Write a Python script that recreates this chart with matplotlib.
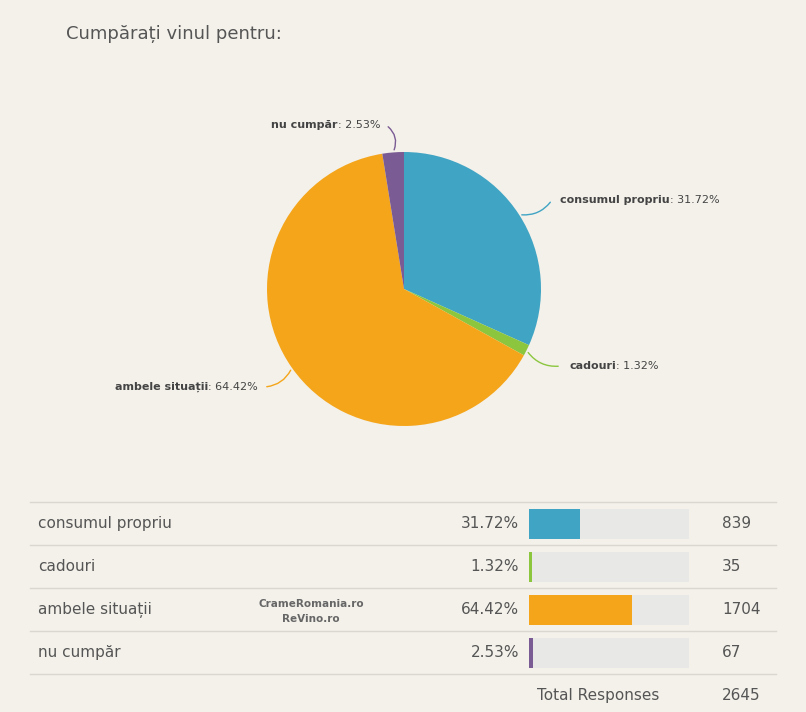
import matplotlib
matplotlib.use("Agg")
import matplotlib.pyplot as plt
import numpy as np

title = "Cumpărați vinul pentru:"
categories = ["consumul propriu", "cadouri", "ambele situații", "nu cumpăr"]
percents = [31.72, 1.32, 64.42, 2.53]
counts = [839, 35, 1704, 67]
total = 2645
colors = ["#40a4c4", "#8cc63f", "#f5a51a", "#7b5b94"]

W, H = 806, 712
bg = "#f3f1ea"
fig = plt.figure(figsize=(W/100, H/100), dpi=100, facecolor=bg)
base = fig.add_axes([0, 0, 1, 1]); base.set_xlim(0, W); base.set_ylim(H, 0); base.axis("off")
base.set_facecolor(bg)
base.text(66, 34, title, fontsize=13, color="#555555", va="center", family="DejaVu Sans")

# pie
cx, cy, r = 404, 289, 137
pax = fig.add_axes([(cx-r)/W, (H-cy-r)/H, 2*r/W, 2*r/H])
wedges, _ = pax.pie(counts, colors=colors, startangle=90, counterclock=False, radius=1,
                    wedgeprops=dict(linewidth=0))
pax.set_xlim(-1, 1); pax.set_ylim(-1, 1); pax.set_aspect("equal"); pax.axis("off")

fig.canvas.draw()
rend = fig.canvas.get_renderer()
label_pos = [(560, 200, "left"), (569, 366, "left"), (258, 387, "right"), (380, 125, "right")]
for w, name, p, c, (tx, ty, ha) in zip(wedges, categories, percents, colors, label_pos):
    ang = np.deg2rad((w.theta1 + w.theta2) / 2)
    px, py = cx + r*np.cos(ang), cy - r*np.sin(ang)
    ex = tx - 8 if ha == "left" else tx + 6
    rad = -0.3 if ha == "left" else 0.3
    if name == "nu cumpăr":
        rad = -0.4
    base.annotate("", xy=(px, py), xytext=(ex, ty),
                  arrowprops=dict(arrowstyle="-", color=c, lw=1, connectionstyle=f"arc3,rad={rad}"))
    pct = f": {p:.2f}%"
    if ha == "left":
        t1 = base.text(tx, ty, name, fontsize=8, fontweight="bold", color="#444444", va="center", ha="left")
        bb = t1.get_window_extent(rend)
        base.text(tx + bb.width, ty, pct, fontsize=8, color="#444444", va="center", ha="left")
    else:
        t2 = base.text(tx, ty, pct, fontsize=8, color="#444444", va="center", ha="right")
        bb = t2.get_window_extent(rend)
        base.text(tx - bb.width, ty, name, fontsize=8, fontweight="bold", color="#444444", va="center", ha="right")

# table
row_top = 502; rh = 43
lc = "#d9d7d0"
for i in range(len(categories) + 2):
    y = row_top + i*rh
    base.plot([30, 776], [y, y], color=lc, lw=1)
for i, (name, p, n, c) in enumerate(zip(categories, percents, counts, colors)):
    yc = row_top + i*rh + rh/2
    base.text(38, yc, name, fontsize=11, color="#555555", va="center")
    base.text(519, yc, f"{p:.2f}%", fontsize=11, color="#555555", va="center", ha="right")
    base.add_patch(plt.Rectangle((529, yc-15), 160, 30, color="#e8e8e6", lw=0))
    base.add_patch(plt.Rectangle((529, yc-15), max(160*p/100, 2.5), 30, color=c, lw=0))
    base.text(722, yc, str(n), fontsize=11, color="#555555", va="center")
yc = row_top + 4*rh + rh/2
base.text(537, yc, "Total Responses", fontsize=11, color="#555555", va="center")
base.text(722, yc, str(total), fontsize=11, color="#555555", va="center")
base.text(311, 604, "CrameRomania.ro", fontsize=7.5, fontweight="bold", color="#666666", ha="center", va="center")
base.text(311, 619, "ReVino.ro", fontsize=7.5, fontweight="bold", color="#666666", ha="center", va="center")

fig.savefig("out.png", dpi=100, facecolor=bg)
